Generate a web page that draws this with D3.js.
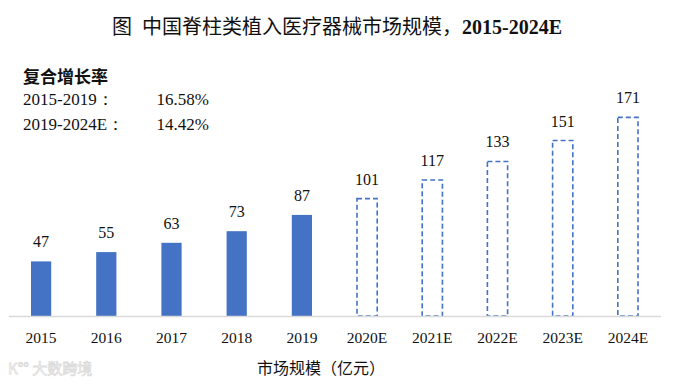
<!DOCTYPE html>
<html>
<head>
<meta charset="utf-8">
<script src="https://cdn.jsdelivr.net/npm/d3@7"></script>
<style>
  body { margin: 0; background: #fff; }
  svg { display: block; }
</style>
</head>
<body>
<div id="chart"></div>
<script>
// data
const years = ["2015", "2016", "2017", "2018", "2019", "2020E", "2021E", "2022E", "2023E", "2024E"];
const marketSize = [47, 55, 63, 73, 87, 101, 117, 133, 151, 171];
const isForecast = [false, false, false, false, false, true, true, true, true, true];
const cagrLabels = ["2015-2019：", "2019-2024E："];
const cagrValues = ["16.58%", "14.42%"];

const width = 682;
const height = 384;
const serif = "'Liberation Serif', 'Times New Roman', serif";
const cjk = "'Noto Sans CJK SC', sans-serif";
const blue = "#4472C4";

const svg = d3.select("#chart").append("svg")
  .attr("width", width)
  .attr("height", height);

const x = d3.scaleBand()
  .domain(years)
  .range([8.5, 660.5])
  .paddingInner(0.69)
  .paddingOuter(0.345);

const y = d3.scaleLinear()
  .domain([0, 272])
  .range([316, 0]);

const rows = years.map(function (d, i) {
  return { year: d, value: marketSize[i], est: isForecast[i] };
});

// title
const title = svg.append("text")
  .attr("x", 112)
  .attr("y", 34)
  .attr("font-size", 20)
  .attr("fill", "#111");
title.append("tspan").attr("font-family", cjk).text("图");
title.append("tspan").attr("x", 142).attr("font-family", cjk).text("中国脊柱类植入医疗器械市场规模，");
title.append("tspan").attr("font-family", serif).attr("font-weight", "bold").text("2015-2024E");

// CAGR block
svg.append("text")
  .attr("x", 23)
  .attr("y", 83)
  .attr("font-family", cjk)
  .attr("font-weight", "bold")
  .attr("font-size", 17)
  .attr("fill", "#111")
  .text("复合增长率");

cagrLabels.forEach(function (lab, i) {
  svg.append("text")
    .attr("x", 23)
    .attr("y", 105 + i * 25)
    .attr("font-family", serif)
    .attr("font-size", 17)
    .attr("fill", "#111")
    .text(lab);
  svg.append("text")
    .attr("x", 209)
    .attr("y", 105 + i * 25)
    .attr("text-anchor", "end")
    .attr("font-family", serif)
    .attr("font-size", 17)
    .attr("fill", "#111")
    .text(cagrValues[i]);
});

// bars
const g = svg.append("g");

g.selectAll(".bar")
  .data(rows)
  .enter().append("rect")
  .attr("class", "bar")
  .attr("x", function (d) { return x(d.year); })
  .attr("width", x.bandwidth())
  .attr("y", function (d) { return y(d.value); })
  .attr("height", function (d) { return y(0) - y(d.value); })
  .attr("fill", function (d) { return d.est ? "none" : blue; })
  .attr("stroke", function (d) { return d.est ? blue : "none"; })
  .attr("stroke-width", 1.6)
  .attr("stroke-dasharray", "5,3");

// value labels
g.selectAll(".val")
  .data(rows)
  .enter().append("text")
  .attr("class", "val")
  .attr("x", function (d) { return x(d.year) + x.bandwidth() / 2; })
  .attr("y", function (d) { return y(d.value) - 14; })
  .attr("text-anchor", "middle")
  .attr("font-family", serif)
  .attr("font-size", 16)
  .attr("fill", "#111")
  .text(function (d) { return d.value; });

// x axis
const axis = svg.append("g")
  .attr("transform", "translate(0," + y(0) + ")")
  .call(d3.axisBottom(x).tickSize(0).tickPadding(16));

axis.select(".domain").attr("stroke", "#d9d9d9").attr("stroke-width", 1.5);
axis.selectAll("text")
  .attr("font-family", serif)
  .attr("font-size", 15.5)
  .attr("fill", "#111");

svg.append("text")
  .attr("x", 321)
  .attr("y", 374)
  .attr("text-anchor", "middle")
  .attr("font-family", cjk)
  .attr("font-size", 16)
  .attr("fill", "#111")
  .text("市场规模（亿元）");

// watermark
svg.append("text")
  .attr("x", 8)
  .attr("y", 374)
  .attr("font-family", cjk)
  .attr("font-size", 15)
  .attr("fill", "#fff")
  .attr("stroke", "#dcdcdc")
  .attr("stroke-width", 0.8)
  .text("K°° 大数跨境");
</script>
</body>
</html>
